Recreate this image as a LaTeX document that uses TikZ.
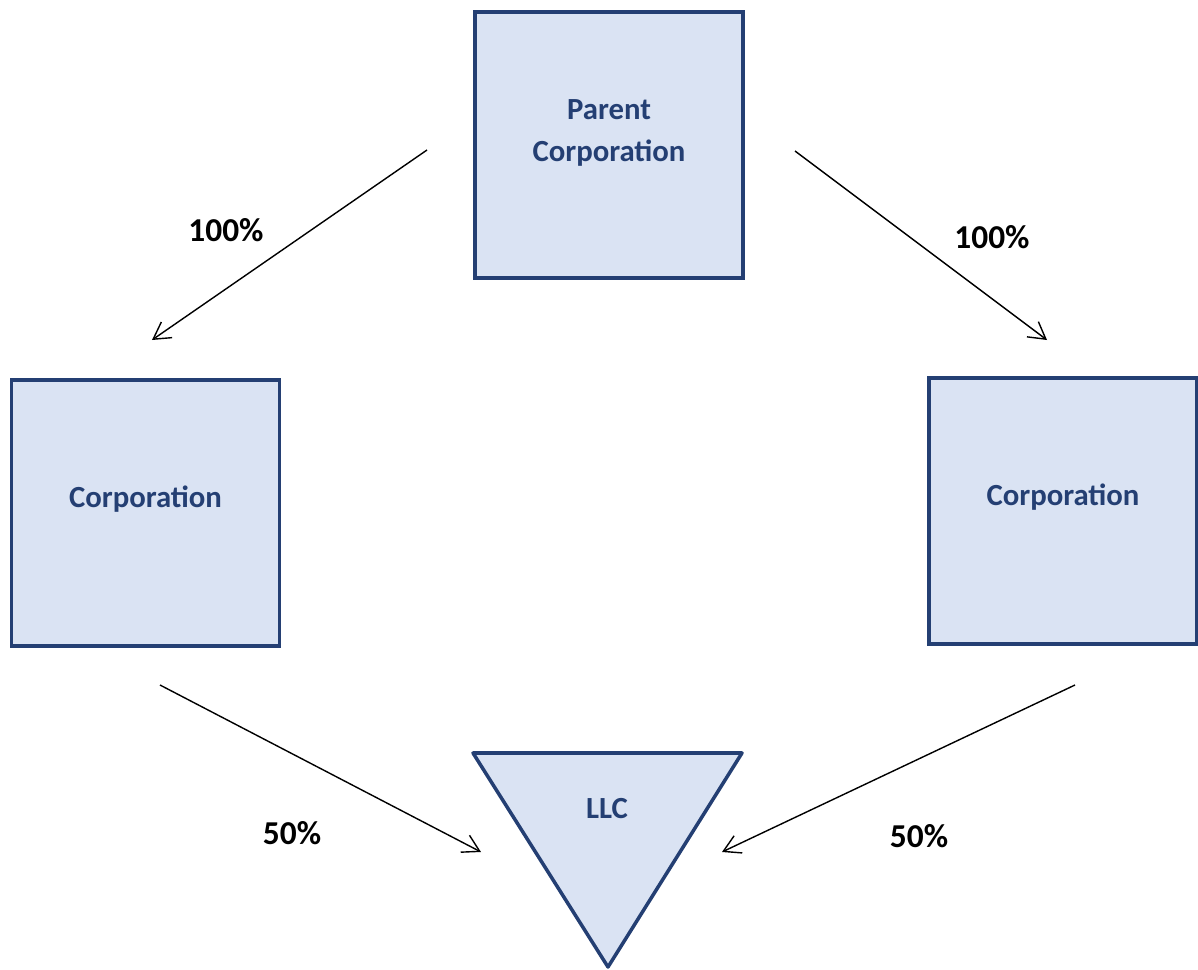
\documentclass[tikz,border=0pt]{standalone}
\usepackage{fontspec}
\setmainfont{Carlito}
\usetikzlibrary{positioning}
\usetikzlibrary{arrows.meta}
\definecolor{boxfill}{HTML}{DAE3F3}
\definecolor{boxline}{HTML}{243F73}
\tikzset{ent/.style={draw=boxline,fill=boxfill,line width=2pt,minimum width=5.36cm,minimum height=5.32cm,inner sep=0pt}}
\tikzset{entname/.style={text=boxline,font=\fontsize{17.5}{23.5}\selectfont\bfseries,align=center}}
\tikzset{pct/.style={font=\fontsize{19}{22}\selectfont\bfseries}}
\tikzset{own/.style={->,>={Straight Barb[length=3.3mm,width=3.8mm]},line width=0.8pt}}

\begin{document}
\begin{tikzpicture}[x=0.02cm,y=-0.02cm]
        \useasboundingbox (0,0) rectangle (1198,970);

        \node[ent] (P) at (609,145) {};
        \node[ent] (L) at (145.5,513) {};
        \node[ent] (R) at (1063,511) {};
        \node[entname] (Ptxt) at ([yshift=0.24cm]P.center) {Parent\\Corporation};
        \node[entname] (Ltxt) at ([yshift=0.28cm]L.center) {Corporation};
        \node[entname] (Rtxt) at ([yshift=0.28cm]R.center) {Corporation};

        % llc triangle
        \coordinate (T1) at (473,753);
        \coordinate (T2) at (742,753);
        \coordinate (T3) at (608,967);
        \draw[draw=boxline,fill=boxfill,line width=2pt,line join=round] (T1) -- (T2) -- (T3) -- cycle;
        \node[entname] (LLC) at (607,809) {LLC};

        \coordinate (a1) at (427,150);
        \coordinate (a2) at (152,340);
        \coordinate (b1) at (795,151);
        \coordinate (b2) at (1047,340);
        \coordinate (c1) at (160,685);
        \coordinate (c2) at (481,852);
        \coordinate (d1) at (1075,685);
        \coordinate (d2) at (722,852);
        \draw[own] (a1) -- (a2);
        \draw[own] (b1) -- (b2);
        \draw[own] (c1) -- (c2);
        \draw[own] (d1) -- (d2);

        \node[pct] (pL) at (226,230) {100\%};
        \node[pct] (pR) at (992,237) {100\%};
        \node[pct] (hL) at (292,833) {50\%};
        \node[pct] (hR) at (919,836) {50\%};

    \end{tikzpicture}
\end{document}
